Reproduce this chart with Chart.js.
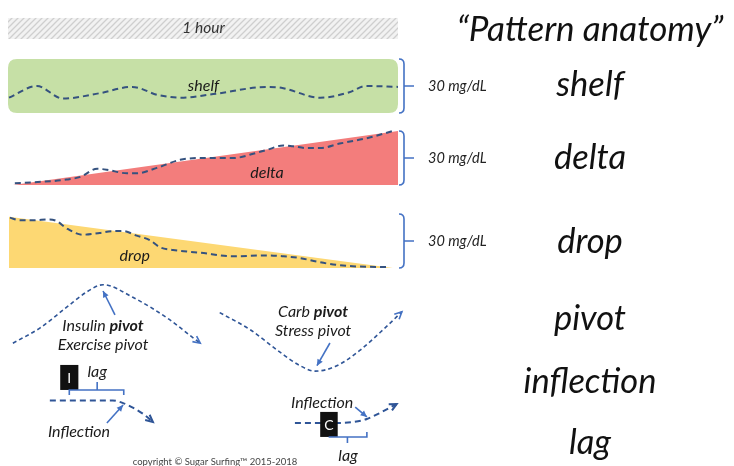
<!DOCTYPE html>
<html>
<head>
<meta charset="utf-8">
<script src="https://cdn.jsdelivr.net/npm/chart.js@4.4.0/dist/chart.umd.min.js"></script>
<style>
  html, body { margin: 0; padding: 0; background: #fff; }
  #wrap { width: 734px; height: 466px; }
</style>
</head>
<body>
<div id="wrap"><canvas id="anatomy" width="734" height="466"></canvas></div>
<script>
// ---- data: x in minutes (one hour = the width of the panels), y in mg/dL per row ----
const shelfMinutes = [0, 4.3, 8.3, 14, 19, 23, 26.5, 31.5, 40, 42, 48, 52.5, 55, 60];
const shelfMgdl    = [8.5, 15, 8, 11, 14.5, 10, 8.5, 10.5, 14.5, 14, 8.5, 11.5, 15, 14.5];

const deltaAreaMinutes = [0.6, 60];
const deltaAreaMgdl    = [0, 30];
const deltaMinutes = [0.9, 3.7, 8.9, 11, 13.6, 15.1, 18.2, 19.7, 22.8, 26.4, 29.5, 34.6, 38.3, 39.8, 42.3, 43.8, 46, 48, 51, 55.2, 59.2];
const deltaMgdl    = [1, 1.5, 3, 4.5, 9, 8.5, 6.5, 6.5, 9.5, 14, 15, 15, 18, 19.5, 22, 21.5, 20.5, 20.5, 23, 26, 30];

const dropAreaMinutes = [0, 59.2];
const dropAreaMgdl    = [28.5, 0];
const dropMinutes = [0.15, 1.7, 3.7, 6.3, 7.4, 8.9, 11.4, 14, 16, 17.6, 19.7, 21.7, 23.3, 25.3, 29.5, 34.6, 39.8, 42.3, 44.9, 47.5, 50, 53, 58.3];
const dropMgdl    = [28, 26.5, 26.5, 27, 26, 22, 18.5, 19.5, 20.5, 20.5, 18, 15.5, 11.5, 10, 8.5, 6.5, 7, 6.5, 5.5, 3.5, 2, 1, 0.5];

const insulinPivotMinutes = [0.6, 4.8, 8.9, 12, 14.5, 19.1, 24.4, 28.4, 29.5];
const insulinPivotMgdl    = [16, 24.5, 36, 44.5, 48.5, 41.5, 30, 19, 16];
const carbPivotMinutes = [32.5, 37.2, 41.8, 44.9, 47.2, 50.3, 54.1, 58, 60.6];
const carbPivotMgdl    = [33, 23.5, 11, 3.5, 0.5, 3, 12, 24.5, 33.5];

const insulinLagMinutes = [6.3, 11, 16, 17.6, 19.1, 20.7, 22.2];
const insulinLagMgdl    = [12, 12, 12, 10.5, 8, 4.5, 0];
const carbLagMinutes = [44.1, 51.1, 53.1, 55.2, 57.2, 59.8];
const carbLagMgdl    = [-0.5, -0.5, 0, 1.7, 5, 10];

const rightLabels = ['shelf', 'delta', 'drop', 'pivot', 'inflection', 'lag'];

// ---- layout ----
const W = 734, H = 466;
const X0_PX = 9, X60_PX = 398;
const PX_PER_MIN = (X60_PX - X0_PX) / 60;
const PX_PER_MGDL = 54 / 30;
const rowBase = { ySh: 113, yDe: 185, yDr: 268, yPv: 372, yLg: 422 };

const FONT = 'Lato, "Open Sans", sans-serif';
const DASH = '#35527f';
const BLUE = '#4472c4';
const BLUE_DARK = '#2f5597';
const SMALL = 16;   // in-chart notes
const BIG = 34.5;   // right column words

function rowAxis(base) {
  return { type: 'linear', display: false, min: (base - H) / PX_PER_MGDL, max: base / PX_PER_MGDL };
}
function pts(xs, ys) { return xs.map((x, i) => ({ x: x, y: ys[i] })); }

function dashed(data, axis, extra) {
  return Object.assign({
    data: data, yAxisID: axis, showLine: true, fill: false,
    borderColor: DASH, borderWidth: 2, borderDash: [6, 4],
    pointRadius: 0, cubicInterpolationMode: 'monotone', order: 1
  }, extra || {});
}
function area(data, axis, color) {
  return {
    data: data, yAxisID: axis, showLine: true, fill: { value: 0 },
    backgroundColor: color, borderColor: 'rgba(0,0,0,0)', borderWidth: 0,
    pointRadius: 0, tension: 0, order: 3
  };
}

// ---- helpers for the annotation layer ----
const X = (c, m) => c.scales.x.getPixelForValue(m);
const Y = (c, ax, v) => c.scales[ax].getPixelForValue(v);

function font(size, italic, bold) {
  return (italic ? 'italic ' : '') + (bold ? 'bold ' : '') + size + 'px ' + FONT;
}
function text(ctx, s, x, y, size, opts) {
  opts = opts || {};
  ctx.font = font(size, opts.italic !== false, opts.bold);
  ctx.fillStyle = opts.color || '#1a1a1a';
  ctx.textAlign = opts.align || 'center';
  ctx.textBaseline = 'middle';
  ctx.fillText(s, x, y);
}
function mixed(ctx, parts, cx, y, size, color) {
  let total = 0;
  parts.forEach(p => { ctx.font = font(size, true, p[1]); total += ctx.measureText(p[0]).width; });
  let x = cx - total / 2;
  ctx.textAlign = 'left';
  ctx.textBaseline = 'middle';
  ctx.fillStyle = color || '#1a1a1a';
  parts.forEach(p => { ctx.font = font(size, true, p[1]); ctx.fillText(p[0], x, y); x += ctx.measureText(p[0]).width; });
}
function head(ctx, x, y, ang, len, filled, color) {
  const a1 = ang + Math.PI - 0.45, a2 = ang + Math.PI + 0.45;
  ctx.strokeStyle = color; ctx.fillStyle = color; ctx.setLineDash([]);
  ctx.beginPath();
  ctx.moveTo(x + len * Math.cos(a1), y + len * Math.sin(a1));
  ctx.lineTo(x, y);
  ctx.lineTo(x + len * Math.cos(a2), y + len * Math.sin(a2));
  if (filled) { ctx.closePath(); ctx.fill(); } else { ctx.stroke(); }
}
function arrow(ctx, x1, y1, x2, y2) {
  ctx.save();
  ctx.strokeStyle = BLUE; ctx.lineWidth = 1.6; ctx.setLineDash([]);
  ctx.beginPath(); ctx.moveTo(x1, y1); ctx.lineTo(x2, y2); ctx.stroke();
  head(ctx, x2, y2, Math.atan2(y2 - y1, x2 - x1), 7, true, BLUE);
  ctx.restore();
}
function brace(ctx, x, top, bottom) {
  const mid = (top + bottom) / 2;
  ctx.save();
  ctx.strokeStyle = BLUE; ctx.lineWidth = 1.6; ctx.setLineDash([]);
  ctx.beginPath();
  ctx.moveTo(x - 5, top); ctx.quadraticCurveTo(x, top, x, top + 5);
  ctx.lineTo(x, bottom - 5); ctx.quadraticCurveTo(x, bottom, x - 5, bottom);
  ctx.moveTo(x, mid); ctx.lineTo(x + 10, mid);
  ctx.stroke();
  ctx.restore();
}
function roundRect(ctx, x, y, w, h, r) {
  ctx.beginPath();
  ctx.moveTo(x + r, y); ctx.lineTo(x + w - r, y); ctx.quadraticCurveTo(x + w, y, x + w, y + r);
  ctx.lineTo(x + w, y + h - r); ctx.quadraticCurveTo(x + w, y + h, x + w - r, y + h);
  ctx.lineTo(x + r, y + h); ctx.quadraticCurveTo(x, y + h, x, y + h - r);
  ctx.lineTo(x, y + r); ctx.quadraticCurveTo(x, y, x + r, y);
  ctx.closePath();
}
function hatch(ctx) {
  const t = document.createElement('canvas');
  t.width = 6; t.height = 6;
  const g = t.getContext('2d');
  g.fillStyle = '#f2f2f2'; g.fillRect(0, 0, 6, 6);
  g.strokeStyle = '#cfcfcf'; g.lineWidth = 1.3;
  g.beginPath();
  g.moveTo(-1, 1); g.lineTo(1, -1);
  g.moveTo(0, 6); g.lineTo(6, 0);
  g.moveTo(5, 7); g.lineTo(7, 5);
  g.stroke();
  return ctx.createPattern(t, 'repeat');
}
function box(ctx, c, m1, m2, ax, v1, v2, letter) {
  const x = X(c, m1), y = Y(c, ax, v1);
  const w = X(c, m2) - x, h = Y(c, ax, v2) - y;
  ctx.fillStyle = '#111';
  ctx.fillRect(x, y, w, h);
  text(ctx, letter, x + w / 2, y + h / 2 + 1, 14, { italic: false, color: '#fff' });
}

const backdrop = {
  id: 'backdrop',
  beforeDatasetsDraw(c) {
    const ctx = c.ctx;
    ctx.save();
    // one-hour bar
    const x0 = X(c, 0), x60 = X(c, 60);
    ctx.fillStyle = hatch(ctx);
    ctx.fillRect(x0 - 1, Y(c, 'ySh', 52.8), x60 - x0 + 1, Y(c, 'ySh', 41.1) - Y(c, 'ySh', 52.8));
    // shelf panel
    ctx.fillStyle = '#c6e0a6';
    roundRect(ctx, x0 - 1, Y(c, 'ySh', 30), x60 - x0 + 1, Y(c, 'ySh', 0) - Y(c, 'ySh', 30), 9);
    ctx.fill();
    ctx.restore();
  }
};

const notes = {
  id: 'notes',
  afterDatasetsDraw(c) {
    const ctx = c.ctx;
    ctx.save();
    // arrow heads on the pivot / lag curves
    c.data.datasets.forEach((ds, i) => {
      if (!ds.arrowEnd) return;
      const p = c.getDatasetMeta(i).data;
      const a = p[p.length - 1];
      let bx = a.cp1x, by = a.cp1y;
      if (bx === undefined || Math.hypot(bx - a.x, by - a.y) < 0.5) { bx = p[p.length - 2].x; by = p[p.length - 2].y; }
      ctx.lineWidth = ds.borderWidth;
      head(ctx, a.x, a.y, Math.atan2(a.y - by, a.x - bx), 8, false, ds.arrowColor || BLUE);
    });

    // 1 hour + panel labels
    text(ctx, '1 hour', X(c, 30), Y(c, 'ySh', 47), 15.5, { color: '#333' });
    text(ctx, 'shelf', X(c, 30), Y(c, 'ySh', 15), SMALL);
    text(ctx, 'delta', X(c, 39.8), Y(c, 'yDe', 7), SMALL);
    text(ctx, 'drop', X(c, 19.4), Y(c, 'yDr', 6.5), SMALL);

    // 30 mg/dL braces
    ['ySh', 'yDe', 'yDr'].forEach(ax => {
      const bx = X(c, 60) + 6;
      brace(ctx, bx, Y(c, ax, 30), Y(c, ax, 0));
      text(ctx, '30 mg/dL', bx + 24, Y(c, ax, 15), 14.5, { align: 'left', color: '#222' });
    });

    // pivots
    arrow(ctx, X(c, 16.35), Y(c, 'yPv', 31.7), X(c, 14.5), Y(c, 'yPv', 45));
    mixed(ctx, [['Insulin ', false], ['pivot', true]], X(c, 14.5), Y(c, 'yPv', 25.5), SMALL);
    mixed(ctx, [['Exercise pivot', false]], X(c, 14.5), Y(c, 'yPv', 15), SMALL);
    mixed(ctx, [['Carb ', false], ['pivot', true]], X(c, 46.9), Y(c, 'yPv', 33.3), SMALL);
    mixed(ctx, [['Stress pivot', false]], X(c, 46.9), Y(c, 'yPv', 22.8), SMALL);
    arrow(ctx, X(c, 49.5), Y(c, 'yPv', 16.1), X(c, 47.5), Y(c, 'yPv', 3.5));

    // lag, insulin side
    box(ctx, c, 7.9, 10.7, 'yLg', 31.7, 17.8, 'I');
    ctx.strokeStyle = BLUE; ctx.lineWidth = 1.6; ctx.setLineDash([]);
    ctx.beginPath();
    ctx.moveTo(X(c, 9.3), Y(c, 'yLg', 15)); ctx.lineTo(X(c, 9.3), Y(c, 'yLg', 17.8));
    ctx.lineTo(X(c, 17.7), Y(c, 'yLg', 17.8)); ctx.lineTo(X(c, 17.7), Y(c, 'yLg', 15));
    ctx.moveTo(X(c, 13.6), Y(c, 'yLg', 17.8)); ctx.lineTo(X(c, 13.6), Y(c, 'yLg', 22.2));
    ctx.stroke();
    text(ctx, 'lag', X(c, 13.6), Y(c, 'yLg', 28), SMALL);
    arrow(ctx, X(c, 15.1), Y(c, 'yLg', -0.6), X(c, 17.6), Y(c, 'yLg', 9.4));
    text(ctx, 'Inflection', X(c, 10.8), Y(c, 'yLg', -5.6), SMALL);

    // lag, carb side
    box(ctx, c, 48, 50.7, 'yLg', 5.6, -8.3, 'C');
    ctx.strokeStyle = BLUE; ctx.lineWidth = 1.6;
    ctx.beginPath();
    ctx.moveTo(X(c, 49.3), Y(c, 'yLg', -8.3)); ctx.lineTo(X(c, 55.2), Y(c, 'yLg', -8.3));
    ctx.lineTo(X(c, 55.2), Y(c, 'yLg', -5.6));
    ctx.moveTo(X(c, 52.2), Y(c, 'yLg', -8.3)); ctx.lineTo(X(c, 52.2), Y(c, 'yLg', -11.7));
    ctx.stroke();
    text(ctx, 'Inflection', X(c, 48.3), Y(c, 'yLg', 10.6), SMALL);
    arrow(ctx, X(c, 53.4), Y(c, 'yLg', 8.3), X(c, 55.2), Y(c, 'yLg', 2.8));
    text(ctx, 'lag', X(c, 52.3), Y(c, 'yLg', -18.9), SMALL);

    // right column
    const rx = 590;
    text(ctx, '\u201cPattern anatomy\u201d', rx, 30, 35, { color: '#111' });
    const rowY = [Y(c, 'ySh', 15.5), Y(c, 'yDe', 15), Y(c, 'yDr', 14.5), 319, 382, 443];
    rightLabels.forEach((s, i) => text(ctx, s, rx, rowY[i], BIG, { color: '#111' }));

    text(ctx, 'copyright \u00a9 Sugar Surfing\u2122 2015-2018', 215, 462, 9.5, { italic: false, color: '#444' });
    ctx.restore();
  }
};

new Chart(document.getElementById('anatomy'), {
  type: 'scatter',
  data: {
    datasets: [
      dashed(pts(shelfMinutes, shelfMgdl), 'ySh'),
      dashed(pts(deltaMinutes, deltaMgdl), 'yDe'),
      dashed(pts(dropMinutes, dropMgdl), 'yDr'),
      dashed(pts(insulinPivotMinutes, insulinPivotMgdl), 'yPv', { borderWidth: 1.6, borderDash: [4, 3], borderColor: BLUE_DARK, arrowEnd: true }),
      dashed(pts(carbPivotMinutes, carbPivotMgdl), 'yPv', { borderWidth: 1.6, borderDash: [4, 3], borderColor: BLUE_DARK, arrowEnd: true }),
      dashed(pts(insulinLagMinutes, insulinLagMgdl), 'yLg', { borderColor: BLUE_DARK, arrowEnd: true, arrowColor: BLUE_DARK }),
      dashed(pts(carbLagMinutes, carbLagMgdl), 'yLg', { borderColor: BLUE_DARK, arrowEnd: true, arrowColor: BLUE_DARK }),
      area(pts(deltaAreaMinutes, deltaAreaMgdl), 'yDe', '#f37d7c'),
      area(pts(dropAreaMinutes, dropAreaMgdl), 'yDr', '#fdd873')
    ]
  },
  options: {
    responsive: false,
    animation: false,
    layout: { padding: 0 },
    plugins: { legend: { display: false }, tooltip: { enabled: false } },
    scales: {
      x: { type: 'linear', display: false, min: -X0_PX / PX_PER_MIN, max: (W - X0_PX) / PX_PER_MIN },
      ySh: rowAxis(rowBase.ySh),
      yDe: rowAxis(rowBase.yDe),
      yDr: rowAxis(rowBase.yDr),
      yPv: rowAxis(rowBase.yPv),
      yLg: rowAxis(rowBase.yLg)
    }
  },
  plugins: [backdrop, notes]
});
</script>
</body>
</html>
